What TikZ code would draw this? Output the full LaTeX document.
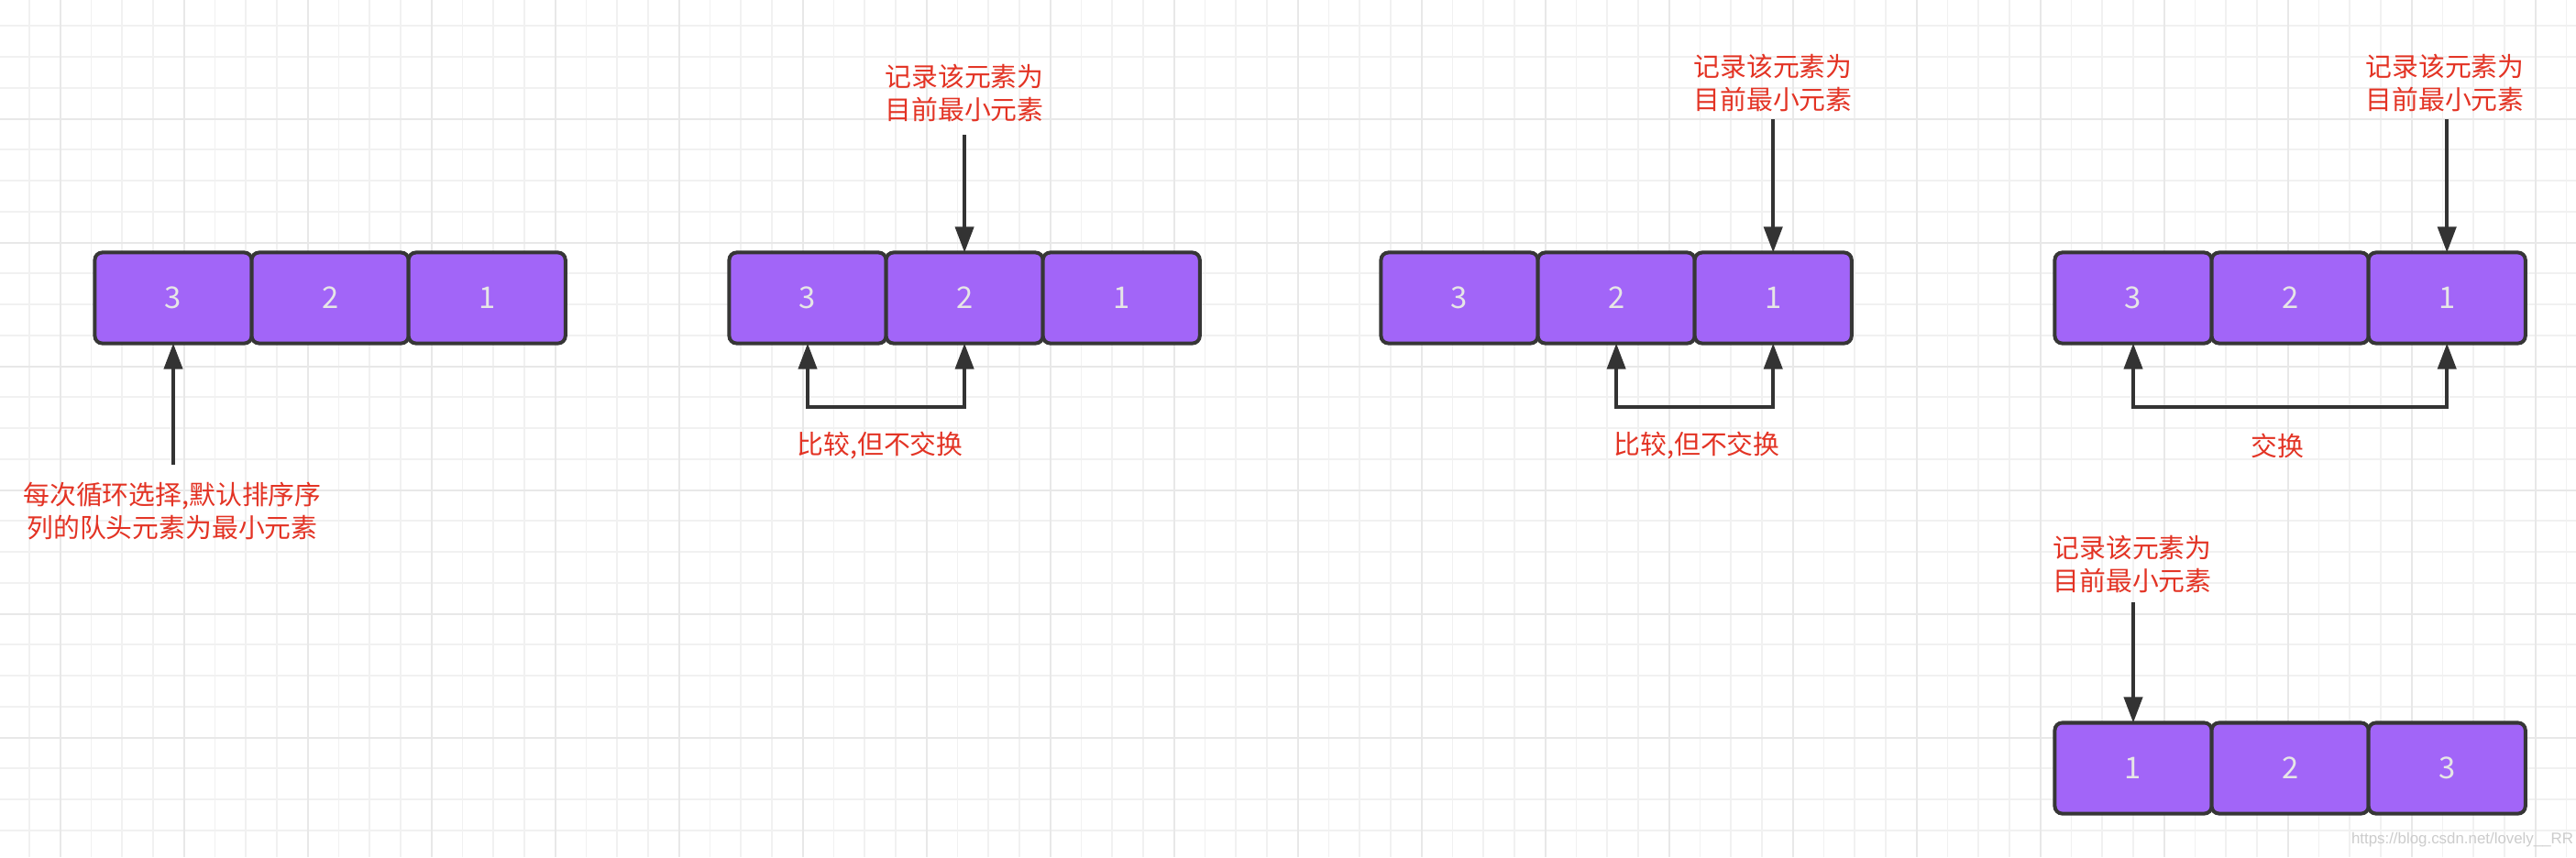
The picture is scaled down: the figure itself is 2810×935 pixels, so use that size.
\documentclass[tikz,border=0pt]{standalone}
\usepackage{fontspec}
\newfontfamily\cjkfont{Noto Sans CJK SC}
\newfontfamily\wmfont{Liberation Sans}
\usetikzlibrary{positioning,arrows.meta}
\definecolor{cellfill}{HTML}{A265F8}
\definecolor{celledge}{HTML}{363636}
\definecolor{celltext}{HTML}{E6E6E6}
\definecolor{arrowgray}{HTML}{333333}
\definecolor{notered}{HTML}{E33324}
\definecolor{gridlight}{HTML}{F1F1F1}
\definecolor{gridmid}{HTML}{E8E8E8}

\begin{document}
\begin{tikzpicture}[x=0.01cm,y=-0.01cm,
    gridminor/.style={gridlight, line width=0.017cm},
    gridmajor/.style={gridmid, line width=0.02cm},
    cell/.style={draw=celledge, fill=cellfill, line width=0.04cm, rounded corners=0.08cm,
        minimum width=1.71cm, minimum height=0.99cm, inner sep=0, outer sep=0,
        text=celltext, font={\cjkfont\fontsize{9.3pt}{11pt}\selectfont}},
    redtext/.style={text=notered, align=center, inner sep=0,
        font={\cjkfont\fontsize{8.2pt}{10.2pt}\selectfont}},
    ptr/.style={draw=arrowgray, line width=0.038cm, -{Triangle[length=0.28cm,width=0.2cm]}},
    cmp/.style={draw=arrowgray, line width=0.038cm,
        {Triangle[length=0.28cm,width=0.2cm]}-{Triangle[length=0.28cm,width=0.2cm]}}]
    \useasboundingbox (0,0) rectangle (2810,935);
    \fill[white] (0,0) rectangle (2810,935);
    \foreach \k in {0,...,82} {\draw[gridminor] ({31.95+33.75*\k},0) -- ({31.95+33.75*\k},935);}
    \foreach \k in {0,...,26} {\draw[gridminor] (0,{28.3+33.75*\k}) -- (2810,{28.3+33.75*\k});}
    \foreach \k in {0,...,20} {\draw[gridmajor] ({65.7+135*\k},0) -- ({65.7+135*\k},935);}
    \foreach \k in {1,...,6} {\draw[gridmajor] (0,{-5.3+135*\k}) -- (2810,{-5.3+135*\k});}

    \foreach \g/\x/\y/\p/\q/\r in {a/189/325/3/2/1, b/881/325/3/2/1, c/1592/325/3/2/1,
        d/2327/325/3/2/1, e/2327/838/1/2/3} {
        \node[cell] (\g1) at (\x,\y) {\p};
        \node[cell, right=0pt of \g1] (\g2) {\q};
        \node[cell, right=0pt of \g2] (\g3) {\r};
    }

    \node[redtext] (ta) at (188,557.5) {每次循环选择,默认排序序\\列的队头元素为最小元素};
    \coordinate (pa) at (a1.south |- 0,507);
    \draw[ptr] (pa) -- (a1.south);

    \node[redtext] (tb) at (1052,101.5) {记录该元素为\\目前最小元素};
    \coordinate (pb) at (b2.north |- 0,147);
    \draw[ptr] (pb) -- (b2.north);
    \draw[cmp] (b1.south) -- ++(0,69.5) -| (b2.south);
    \node[redtext] (lb) at (960,486) {比较,但不交换};

    \node[redtext] (tc) at (1934,90.5) {记录该元素为\\目前最小元素};
    \coordinate (pc) at (c3.north |- 0,130);
    \draw[ptr] (pc) -- (c3.north);
    \draw[cmp] (c2.south) -- ++(0,69.5) -| (c3.south);
    \node[redtext] (lc) at (1851,486) {比较,但不交换};

    \node[redtext] (td) at (2667,90.5) {记录该元素为\\目前最小元素};
    \coordinate (pd) at (d3.north |- 0,130);
    \draw[ptr] (pd) -- (d3.north);
    \draw[cmp] (d1.south) -- ++(0,69.5) -| (d3.south);
    \node[redtext] (ld) at (2484,486) {交换};

    \node[redtext] (te) at (2326,615.5) {记录该元素为\\目前最小元素};
    \coordinate (pe) at (e1.north |- 0,657);
    \draw[ptr] (pe) -- (e1.north);

    \node[text=black!20, inner sep=0, font={\wmfont\fontsize{4.8pt}{5pt}\selectfont}] (wm) at (2686,916) {https://blog.csdn.net/lovely\_\_RR};
\end{tikzpicture}
\end{document}
